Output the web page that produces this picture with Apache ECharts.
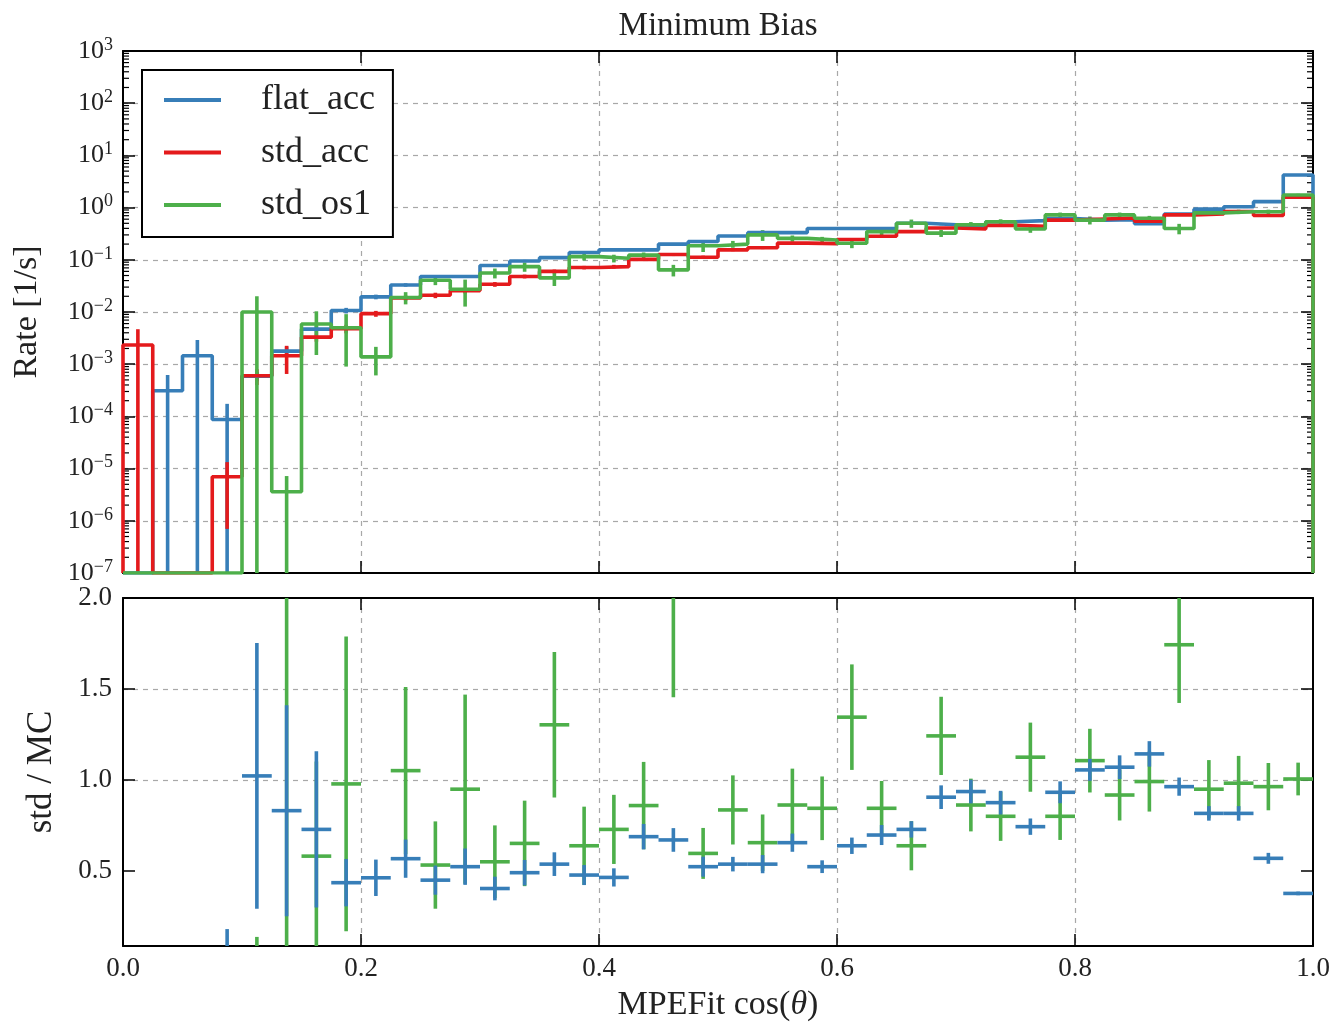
<!DOCTYPE html>
<html>
<head>
<meta charset="utf-8">
<script src="https://cdn.jsdelivr.net/npm/echarts@6/dist/echarts.min.js"></script>
<style>
  html, body { margin: 0; padding: 0; background: #fff; }
  #chart { width: 1336px; height: 1025px; }
</style>
</head>
<body>
<div id="chart"></div>
<script>
// Binning in MPEFit cos(theta): 40 bins of width 0.025
const binWidth = 0.025;
const binCount = 40;
const binEdges = Array.from({ length: binCount + 1 }, (_, k) => +(k * binWidth).toFixed(4));

// Rates per bin [1/s] (null = empty bin) and their uncertainties
const flatAcc = [null, 3.1e-4, 1.45e-3, 8.7e-5, 5.9e-4, 1.78e-3, 4.7e-3, 1.07e-2, 1.95e-2, 3.3e-2,
  4.8e-2, 4.8e-2, 7.8e-2, 9.5e-2, 0.110, 0.138, 0.155, 0.155, 0.200, 0.224,
  0.286, 0.331, 0.331, 0.398, 0.398, 0.398, 0.500, 0.468, 0.417, 0.537,
  0.562, 0.617, 0.575, 0.589, 0.490, 0.750, 0.933, 1.04, 1.30, 4.22];
const flatAccErr = [0, 3.1e-4, 1.45e-3, 8.7e-5, 1.2e-4, 4e-4, 8e-4, 1.3e-3, 2e-3, 2.5e-3,
  3e-3, 3e-3, 4e-3, 4.5e-3, 5e-3, 5.5e-3, 6e-3, 6e-3, 7e-3, 7e-3,
  8e-3, 8e-3, 8e-3, 9e-3, 9e-3, 9e-3, 1e-2, 1e-2, 1e-2, 1.1e-2,
  1.1e-2, 1.2e-2, 1.2e-2, 1.2e-2, 1.1e-2, 1.3e-2, 1.5e-2, 1.6e-2, 1.8e-2, 3.5e-2];

const stdAcc = [2.34e-3, null, null, 7.0e-6, 6.0e-4, 1.45e-3, 3.3e-3, 4.8e-3, 9.3e-3, 1.86e-2,
  2.09e-2, 2.57e-2, 3.39e-2, 4.8e-2, 6.0e-2, 7.1e-2, 7.4e-2, 0.102, 0.126, 0.112,
  0.155, 0.170, 0.209, 0.204, 0.245, 0.282, 0.347, 0.407, 0.389, 0.457,
  0.437, 0.575, 0.603, 0.631, 0.550, 0.724, 0.759, 0.841, 0.708, 1.58];
const stdAccErr = [2.34e-3, 0, 0, 6.3e-6, 2e-4, 8e-4, 6e-4, 9e-4, 1.2e-3, 2e-3,
  2.5e-3, 3e-3, 3.5e-3, 4e-3, 5e-3, 5.5e-3, 6e-3, 7e-3, 8e-3, 8e-3,
  9e-3, 1e-2, 1.1e-2, 1.1e-2, 1.2e-2, 1.3e-2, 1.4e-2, 1.5e-2, 1.5e-2, 1.6e-2,
  1.6e-2, 1.8e-2, 1.9e-2, 2e-2, 1.9e-2, 2.2e-2, 2.3e-2, 2.5e-2, 2.4e-2, 4e-2];

const stdOs1 = [null, null, null, null, 1.0e-2, 3.6e-6, 5.9e-3, 5.0e-3, 1.38e-3, 1.9e-2,
  4.07e-2, 2.72e-2, 5.6e-2, 7.4e-2, 4.5e-2, 0.115, 0.107, 0.123, 6.4e-2, 0.186,
  0.200, 0.300, 0.257, 0.240, 0.207, 0.347, 0.500, 0.324, 0.468, 0.537,
  0.389, 0.724, 0.575, 0.724, 0.624, 0.398, 0.794, 0.832, 0.832, 1.74];
const stdOs1Err = [0, 0, 0, 0, 1.0e-2, 3.6e-6, 4.4e-3, 4.1e-3, 7.7e-4, 5e-3,
  8e-3, 1.45e-2, 1.2e-2, 1.5e-2, 1.35e-2, 1.8e-2, 1.8e-2, 1.5e-2, 1.6e-2, 4.5e-2,
  3e-2, 7e-2, 3.5e-2, 3.5e-2, 4e-2, 5e-2, 9e-2, 5e-2, 6e-2, 6e-2,
  6e-2, 8e-2, 1e-1, 8e-2, 7e-2, 9e-2, 8e-2, 8e-2, 8e-2, 1e-1];

// Ratio panel: std / MC
const ratioAcc = [null, null, null, 0.05, 1.022, 0.831, 0.728, 0.435, 0.462, 0.567,
  0.449, 0.523, 0.403, 0.490, 0.537, 0.477, 0.464, 0.688, 0.670, 0.523,
  0.537, 0.537, 0.655, 0.523, 0.638, 0.697, 0.728, 0.905, 0.936, 0.875,
  0.743, 0.932, 1.055, 1.070, 1.143, 0.963, 0.816, 0.816, 0.569, 0.376];
const ratioAccErr = [null, null, null, 0.13, 0.73, 0.58, 0.43, 0.13, 0.10, 0.105,
  0.08, 0.10, 0.065, 0.07, 0.065, 0.055, 0.05, 0.07, 0.065, 0.055,
  0.04, 0.05, 0.05, 0.035, 0.045, 0.055, 0.045, 0.065, 0.065, 0.065,
  0.045, 0.06, 0.06, 0.065, 0.07, 0.05, 0.04, 0.04, 0.03, 0.01];
const ratioOs1 = [null, null, null, null, 0.05, 2.30, 0.581, 0.978, null, 1.051,
  0.532, 0.949, 0.550, 0.651, 1.303, 0.638, 0.728, 0.859, 2.07, 0.596,
  0.835, 0.655, 0.862, 0.844, 1.345, 0.844, 0.638, 1.242, 0.862, 0.800,
  1.125, 0.800, 1.106, 0.917, 0.991, 1.743, 0.949, 0.982, 0.963, 1.005];
const ratioOs1Err = [null, null, null, null, 0.087, 2.25, 0.52, 0.81, null, 0.46,
  0.24, 0.52, 0.20, 0.235, 0.40, 0.215, 0.19, 0.24, 0.615, 0.14,
  0.19, 0.155, 0.20, 0.175, 0.29, 0.15, 0.135, 0.215, 0.145, 0.135,
  0.19, 0.13, 0.175, 0.14, 0.165, 0.32, 0.16, 0.15, 0.13, 0.09];

// Axis ticks
const xTickValues = [0.0, 0.2, 0.4, 0.6, 0.8, 1.0];
const rateDecades = [-7, -6, -5, -4, -3, -2, -1, 0, 1, 2, 3];
const ratioTickValues = [0.5, 1.0, 1.5, 2.0];
const legendNames = ['flat_acc', 'std_acc', 'std_os1'];

const RATE_MIN = 1e-7, RATE_MAX = 1e3;
const RATIO_MIN = 0.087, RATIO_MAX = 2.0;
const COLORS = { flat_acc: '#377eb8', std_acc: '#e41a1c', std_os1: '#4daf4a' };
const FONT = "'Liberation Serif', 'Times New Roman', serif";
const TEXT = '#222';
const LW = 3.6;

const minorRateTicks = [];
rateDecades.slice(0, -1).forEach(d => {
  for (let m = 2; m <= 9; m++) minorRateTicks.push(m * Math.pow(10, d));
});

function stepPoints(values) {
  const pts = [[binEdges[0], RATE_MIN]];
  values.forEach((v, k) => {
    const y = v == null ? RATE_MIN : v;
    pts.push([binEdges[k], y], [binEdges[k + 1], y]);
  });
  pts.push([binEdges[binCount], RATE_MIN]);
  return pts;
}

function errItems(values, errs) {
  const out = [];
  values.forEach((v, k) => {
    if (v == null || errs[k] == null) return;
    out.push([(binEdges[k] + binEdges[k + 1]) / 2, v, errs[k], binEdges[k], binEdges[k + 1]]);
  });
  return out;
}

function rateErrSeries(name, values, errs) {
  return {
    type: 'custom', name: name + ' err', xAxisIndex: 0, yAxisIndex: 0, clip: true,
    data: errItems(values, errs),
    renderItem(params, api) {
      const xc = api.value(0), v = api.value(1), e = api.value(2);
      const lo = v - e > RATE_MIN ? v - e : RATE_MIN;
      const top = api.coord([xc, v + e]);
      const bot = api.coord([xc, lo]);
      return { type: 'line', shape: { x1: top[0], y1: top[1], x2: bot[0], y2: bot[1] },
        style: { stroke: COLORS[name], lineWidth: LW } };
    }
  };
}

function ratioSeries(name, values, errs) {
  return {
    type: 'custom', name: name + ' ratio', xAxisIndex: 2, yAxisIndex: 2, clip: true,
    data: errItems(values, errs),
    renderItem(params, api) {
      const xc = api.value(0), v = api.value(1), e = api.value(2);
      const l = api.coord([api.value(3), v]), r = api.coord([api.value(4), v]);
      const t = api.coord([xc, v + e]), b = api.coord([xc, v - e]);
      const st = { stroke: COLORS[name], lineWidth: LW };
      return { type: 'group', children: [
        { type: 'line', shape: { x1: l[0], y1: l[1], x2: r[0], y2: r[1] }, style: st },
        { type: 'line', shape: { x1: t[0], y1: t[1], x2: b[0], y2: b[1] }, style: st }
      ] };
    }
  };
}

const frameLine = { show: true, onZero: false, lineStyle: { color: '#000', width: 2 } };
const majorTick = { show: true, inside: true, length: 12, lineStyle: { color: '#000', width: 1.5 } };
const dashGrid = { show: true, showMinLine: false, showMaxLine: false,
  lineStyle: { color: '#a8a8a8', type: [5, 5], width: 1.2 } };
const tickFont = { fontFamily: FONT, fontSize: 27, color: TEXT };

function expLabel(value) {
  const e = Math.round(Math.log10(value));
  return '{b|10}{s|' + (e < 0 ? '\u2212' + (-e) : e) + '}';
}

const grids = [
  { left: 123, top: 51, width: 1190, height: 522 },
  { left: 123, top: 598, width: 1190, height: 348 }
];

const xAxes = [
  // rate panel
  { gridIndex: 0, type: 'value', min: 0, max: 1, interval: 0.2, position: 'bottom',
    axisLine: frameLine, axisTick: majorTick, axisLabel: { show: false }, splitLine: dashGrid },
  { gridIndex: 0, type: 'value', min: 0, max: 1, interval: 0.2, position: 'top',
    axisLine: frameLine, axisTick: majorTick, axisLabel: { show: false }, splitLine: { show: false } },
  // ratio panel
  { gridIndex: 1, type: 'value', min: 0, max: 1, interval: 0.2, position: 'bottom',
    axisLine: frameLine, axisTick: majorTick, splitLine: dashGrid,
    axisLabel: Object.assign({ margin: 9, formatter: v => v.toFixed(1),
      customValues: xTickValues }, tickFont),
    name: 'MPEFit cos({i|\u03b8})', nameLocation: 'middle', nameGap: 42,
    nameTextStyle: { fontFamily: FONT, fontSize: 34, color: TEXT,
      rich: { i: { fontFamily: FONT, fontSize: 34, fontStyle: 'italic', color: TEXT } } } },
  { gridIndex: 1, type: 'value', min: 0, max: 1, interval: 0.2, position: 'top',
    axisLine: frameLine, axisTick: majorTick, axisLabel: { show: false }, splitLine: { show: false } }
];

const rateAxisBase = { gridIndex: 0, type: 'log', logBase: 10, min: RATE_MIN, max: RATE_MAX,
  interval: 1, axisLine: frameLine, axisTick: majorTick };

const yAxes = [
  Object.assign({}, rateAxisBase, { position: 'left', splitLine: dashGrid,
    axisLabel: { margin: 10, formatter: expLabel,
      rich: { b: { fontFamily: FONT, fontSize: 26, color: TEXT, lineHeight: 30 },
              s: { fontFamily: FONT, fontSize: 18, color: TEXT, verticalAlign: 'top', lineHeight: 30 } } },
    name: 'Rate [1/s]', nameLocation: 'middle', nameGap: 79,
    nameTextStyle: { fontFamily: FONT, fontSize: 34, color: TEXT } }),
  Object.assign({}, rateAxisBase, { position: 'right', splitLine: { show: false },
    axisLabel: { show: false } }),
  { gridIndex: 1, type: 'value', min: RATIO_MIN, max: RATIO_MAX, position: 'left',
    axisLine: frameLine,
    axisTick: Object.assign({ customValues: ratioTickValues }, majorTick),
    splitLine: dashGrid,
    axisLabel: Object.assign({ margin: 11, customValues: ratioTickValues,
      formatter: v => v.toFixed(1) }, tickFont),
    name: 'std / MC', nameLocation: 'middle', nameGap: 64,
    nameTextStyle: { fontFamily: FONT, fontSize: 35, color: TEXT } },
  { gridIndex: 1, type: 'value', min: RATIO_MIN, max: RATIO_MAX, position: 'right',
    axisLine: frameLine,
    axisTick: Object.assign({ customValues: ratioTickValues }, majorTick),
    splitLine: { show: false }, axisLabel: { show: false } }
];

const series = [];
// step histograms with their error bars
[['flat_acc', flatAcc, flatAccErr], ['std_acc', stdAcc, stdAccErr], ['std_os1', stdOs1, stdOs1Err]]
  .forEach(([name, vals, errs]) => {
    series.push({
      type: 'line', name, xAxisIndex: 0, yAxisIndex: 0, data: stepPoints(vals),
      symbol: 'none', showSymbol: false, lineStyle: { color: COLORS[name], width: LW },
      itemStyle: { color: COLORS[name] }, emphasis: { disabled: true }
    });
    series.push(rateErrSeries(name, vals, errs));
  });

// minor log ticks on both sides of the rate panel
series.push({
  type: 'custom', name: 'minor ticks', xAxisIndex: 0, yAxisIndex: 0, silent: true,
  data: minorRateTicks.map(v => [0, v]),
  renderItem(params, api) {
    const l = api.coord([0, api.value(1)]), r = api.coord([1, api.value(1)]);
    const st = { stroke: '#000', lineWidth: 1.2 };
    return { type: 'group', children: [
      { type: 'line', shape: { x1: l[0], y1: l[1], x2: l[0] + 6, y2: l[1] }, style: st },
      { type: 'line', shape: { x1: r[0] - 6, y1: r[1], x2: r[0], y2: r[1] }, style: st }
    ] };
  }
});

// ratio panel crosses
series.push(ratioSeries('std_os1', ratioOs1, ratioOs1Err));
series.push(ratioSeries('flat_acc', ratioAcc, ratioAccErr));

const chart = echarts.init(document.getElementById('chart'), null, { renderer: 'canvas' });
chart.setOption({
  animation: false,
  backgroundColor: '#fff',
  title: { text: 'Minimum Bias', left: 713, top: 5, textAlign: 'center',
    textStyle: { fontFamily: FONT, fontSize: 33, fontWeight: 'normal', color: TEXT } },
  legend: {
    data: legendNames, left: 142, top: 70, orient: 'vertical',
    backgroundColor: '#fff', borderColor: '#000', borderWidth: 2, borderRadius: 0,
    padding: [12, 18, 14, 22], itemWidth: 57, itemHeight: 4, itemGap: 16.5, icon: 'rect',
    formatter: n => '{g|}{t|' + n + '}',
    textStyle: { fontFamily: FONT, fontSize: 36, color: TEXT,
      rich: { g: { width: 35 }, t: { fontFamily: FONT, fontSize: 36, color: TEXT } } },
    selectedMode: false
  },
  grid: grids,
  xAxis: xAxes,
  yAxis: yAxes,
  series
});
</script>
</body>
</html>
